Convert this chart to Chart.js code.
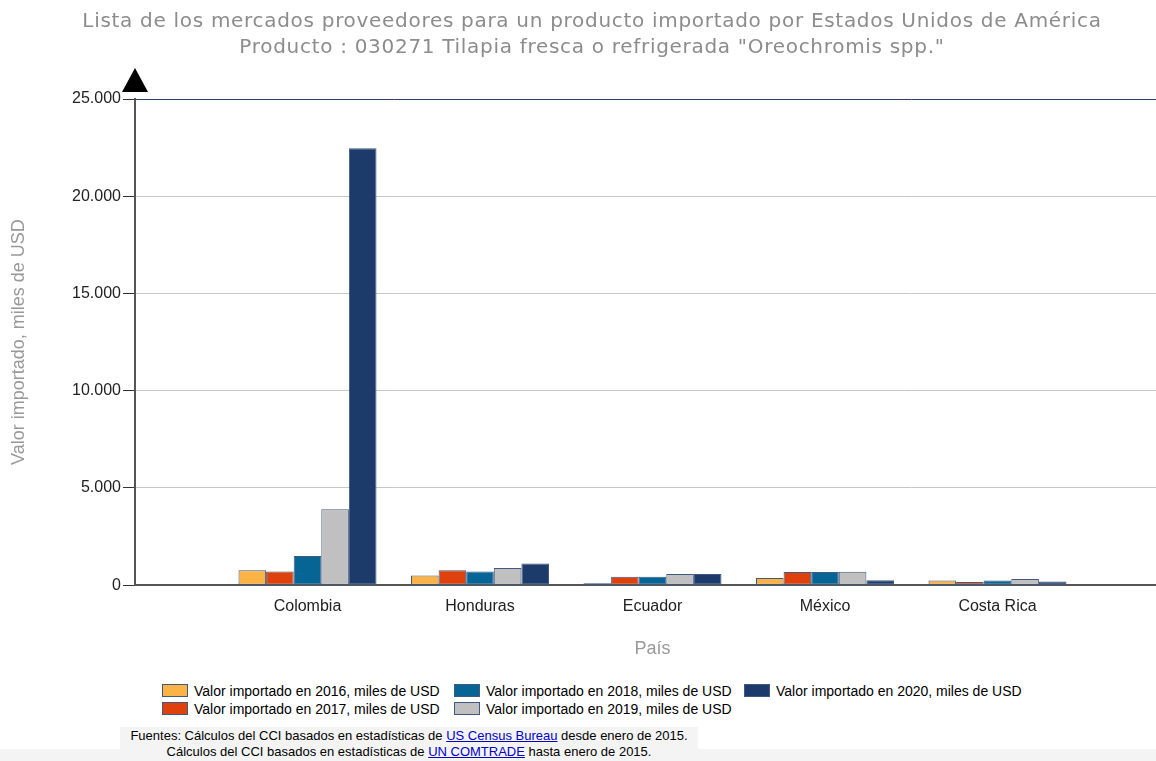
<!DOCTYPE html>
<html>
<head>
<meta charset="utf-8">
<script src="https://cdn.jsdelivr.net/npm/chart.js@4/dist/chart.umd.min.js"></script>
<style>
  html, body { margin: 0; padding: 0; background: #fff; overflow: hidden; }
  #wrap { position: relative; width: 1184px; height: 761px; }
  #title { position: absolute; left: 0; top: 7px; width: 1184px; text-align: center; color: #8c8c8c;
    font: 20px "DejaVu Sans", Verdana, sans-serif; letter-spacing: 0.7px; line-height: 26px; }
  #chart-box { position: absolute; left: 0; top: 0; width: 1184px; height: 670px; }
  #legend { position: absolute; left: 162px; top: 682px; font: 14px "Liberation Sans", Arial, sans-serif; color: #000; }
  .leg-col { position: absolute; top: 0; width: 290px; }
  .leg-item { height: 18px; line-height: 18px; white-space: nowrap; }
  .leg-box { display: inline-block; width: 24px; height: 11px; border: 1px solid #41597f; vertical-align: -1px; margin-right: 6px; }
  #band { position: absolute; left: 0; top: 749px; width: 1184px; height: 12px; background: #f4f4f4; }
  #sources { position: absolute; left: 120px; top: 727px; width: 578px; height: 34px; background: #f4f4f4; text-align: center;
    font: 13px "Liberation Sans", Arial, sans-serif; line-height: 16px; color: #000; padding-top: 1px; }
  #sources a { color: #00c; }
</style>
</head>
<body>
<div id="wrap">
  <div id="chart-box"><canvas id="importChart" width="1184" height="670"></canvas></div>
  <div id="title">Lista de los mercados proveedores para un producto importado por Estados Unidos de América<br>Producto : 030271 Tilapia fresca o refrigerada "Oreochromis spp."</div>
  <div id="legend"></div>
  <div id="band"></div>
  <div id="sources">
    Fuentes: Cálculos del CCI basados en estadísticas de <a href="#">US Census Bureau</a> desde enero de 2015.<br>
    Cálculos del CCI basados en estadísticas de <a href="#">UN COMTRADE</a> hasta enero de 2015.
  </div>
</div>
<script>
const countries = ['Colombia', 'Honduras', 'Ecuador', 'México', 'Costa Rica'];
const years = ['2016', '2017', '2018', '2019', '2020'];
const v2016 = [770, 500, 100, 370, 240];
const v2017 = [700, 770, 430, 680, 170];
const v2018 = [1500, 700, 440, 680, 240];
const v2019 = [3900, 890, 580, 690, 320];
const v2020 = [22470, 1110, 580, 260, 190];
const yTicks = [0, 5000, 10000, 15000, 20000, 25000];
const colors = ['#fcb345', '#de410b', '#076595', '#c0c0c0', '#1c3a6a'];

const seriesValues = [v2016, v2017, v2018, v2019, v2020];

// empty slot on each side so the countries sit like in the original
const labels = [''].concat(countries, ['']);

function formatThousands(n) {
  return String(n).replace(/\B(?=(\d{3})+(?!\d))/g, '.');
}

const arrowPlugin = {
  id: 'axisArrow',
  afterDraw(chart) {
    const ctx = chart.ctx;
    const x = chart.scales.y.right;
    const top = chart.chartArea.top;
    ctx.save();
    ctx.fillStyle = '#000';
    ctx.beginPath();
    ctx.moveTo(x, top - 31);
    ctx.lineTo(x - 13, top - 7);
    ctx.lineTo(x + 13, top - 7);
    ctx.closePath();
    ctx.fill();
    ctx.restore();
  }
};

const datasets = years.map((yr, i) => ({
  label: 'Valor importado en ' + yr + ', miles de USD',
  data: [null].concat(seriesValues[i], [null]),
  backgroundColor: colors[i],
  borderColor: '#41597f',
  borderWidth: 1,
  borderSkipped: false,
  categoryPercentage: 0.8,
  barPercentage: 1.0
}));

const ctx = document.getElementById('importChart').getContext('2d');
new Chart(ctx, {
  type: 'bar',
  data: { labels: labels, datasets: datasets },
  plugins: [arrowPlugin],
  options: {
    responsive: false,
    animation: false,
    layout: { padding: { left: 4, right: 14, top: 99, bottom: 6 } },
    plugins: {
      legend: { display: false },
      tooltip: { enabled: false },
      title: { display: false }
    },
    scales: {
      x: {
        offset: false,
        grid: { display: false, drawTicks: false },
        border: { color: '#555', width: 2 },
        ticks: { color: '#222', font: { family: 'Liberation Sans', size: 16 }, padding: 12, maxRotation: 0, autoSkip: false },
        title: { display: true, text: 'País', color: '#999', font: { family: 'Liberation Sans', size: 18 }, padding: { top: 10, bottom: 4 } }
      },
      y: {
        min: 0,
        max: 25000,
        afterBuildTicks(scale) { scale.ticks = yTicks.map(v => ({ value: v })); },
        afterFit(scale) { scale.width = 131; },
        grid: {
          color: c => (c.tick && c.tick.value === 25000) ? '#2b4266' : '#c8c8c8',
          tickColor: '#333',
          tickLength: 12
        },
        border: { color: '#555', width: 2 },
        ticks: { color: '#222', font: { family: 'Liberation Sans', size: 16 }, padding: 2, callback: v => formatThousands(v) },
        title: { display: true, text: 'Valor importado, miles de USD', color: '#999', font: { family: 'Liberation Sans', size: 18 }, padding: { top: 4, bottom: 0 } }
      }
    }
  }
});

// legend laid out in columns like the original
const legend = document.getElementById('legend');
const colX = [0, 292, 582];
years.forEach((yr, i) => {
  const col = Math.floor(i / 2);
  let colDiv = legend.querySelector('[data-col="' + col + '"]');
  if (!colDiv) {
    colDiv = document.createElement('div');
    colDiv.className = 'leg-col';
    colDiv.dataset.col = col;
    colDiv.style.left = colX[col] + 'px';
    legend.appendChild(colDiv);
  }
  const item = document.createElement('div');
  item.className = 'leg-item';
  item.innerHTML = '<span class="leg-box" style="background:' + colors[i] + '"></span>' + datasets[i].label;
  colDiv.appendChild(item);
});
</script>
</body>
</html>
